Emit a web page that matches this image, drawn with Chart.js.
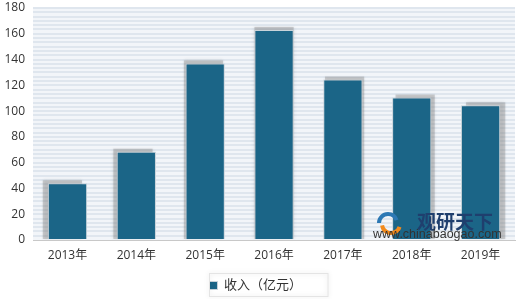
<!DOCTYPE html>
<html>
<head>
<meta charset="utf-8">
<script src="https://cdn.jsdelivr.net/npm/chart.js@4/dist/chart.umd.min.js"></script>
<style>
  html, body { margin: 0; padding: 0; background: #fff; }
  #wrap { width: 520px; height: 299px; position: relative; }
</style>
</head>
<body>
<div id="wrap"><canvas id="revenue-chart"></canvas></div>
<script>
// chart data
const years = ['2013年', '2014年', '2015年', '2016年', '2017年', '2018年', '2019年'];
const revenue = [44, 68.5, 137, 163, 124.5, 110.5, 104.5];
const seriesName = '收入（亿元）';
const yMax = 180;
const yLabelStep = 20;
const stripeStep = 20 / 6;

const barColor = '#1b6587';
const fontFamily = '"Open Sans", "Noto Sans CJK SC", sans-serif';

document.addEventListener('DOMContentLoaded', function() {
  const ctx = document.getElementById('revenue-chart').getContext('2d');

  // plot background
  const plotBg = {
    id: 'plotBg',
    beforeDraw(chart) {
      const a = chart.chartArea;
      const c = chart.ctx;
      c.save();
      c.fillStyle = '#f2f5f9';
      c.fillRect(a.left, a.top, a.right - a.left, a.bottom - a.top);
      c.restore();
    }
  };

  // soft shadow behind each bar, spreading outwards from the middle
  const barShadow = {
    id: 'barShadow',
    beforeDatasetsDraw(chart) {
      const c = chart.ctx;
      const meta = chart.getDatasetMeta(0);
      const mid = (meta.data.length - 1) / 2;
      meta.data.forEach(function(bar, i) {
        const w = bar.width;
        const dx = (i - mid) * 1.7;
        c.save();
        c.beginPath();
        c.rect(chart.chartArea.left, chart.chartArea.top, chart.chartArea.width, chart.chartArea.height);
        c.clip();
        c.shadowColor = 'rgba(80,80,80,0.45)';
        c.shadowBlur = 3;
        c.fillStyle = 'rgba(130,130,130,0.35)';
        c.fillRect(bar.x - w / 2 + dx, bar.y - 3, w, bar.base - bar.y + 3);
        c.restore();
      });
    }
  };

  // frame round the legend and watermark
  const extras = {
    id: 'extras',
    afterDraw(chart) {
      const c = chart.ctx;
      const lg = chart.legend;
      const hb = lg.legendHitBoxes[0];
      c.save();
      c.strokeStyle = '#e4e4e4';
      c.lineWidth = 1;
      c.shadowColor = 'rgba(0,0,0,0.15)';
      c.shadowBlur = 5;
      c.strokeRect(Math.round(hb.left) + 0.5, Math.round(hb.top) - 5.5, hb.width + 26, 23);
      c.restore();

      const a = chart.chartArea;
      c.save();
      // logo swirl
      const lx = a.right - 127, ly = a.bottom - 17;
      c.lineWidth = 4;
      c.strokeStyle = '#2c78b4';
      c.beginPath(); c.arc(lx, ly, 9, Math.PI * 1.0, Math.PI * 1.9); c.stroke();
      c.strokeStyle = '#f28a1c';
      c.beginPath(); c.arc(lx + 3, ly + 1, 9, Math.PI * 0.1, Math.PI * 0.95); c.stroke();
      c.fillStyle = '#1f3f6e';
      c.font = 'bold 19px "Noto Sans CJK SC", sans-serif';
      c.textBaseline = 'alphabetic';
      c.fillText('观研天下', a.right - 98, a.bottom - 11);
      c.fillStyle = '#333';
      c.font = '12.5px "Liberation Sans", sans-serif';
      c.fillText('www.chinabaogao.com', a.right - 142, a.bottom - 2);
      c.restore();
    }
  };

  new Chart(ctx, {
    type: 'bar',
    data: {
      labels: years,
      datasets: [{
        label: seriesName,
        data: revenue,
        backgroundColor: barColor,
        borderColor: '#c9d3da',
        borderWidth: 1,
        barPercentage: 0.57,
        categoryPercentage: 1.0
      }]
    },
    options: {
      responsive: true,
      maintainAspectRatio: false,
      animation: false,
      layout: { autoPadding: false, padding: { left: -3.5, right: 5, top: 8, bottom: -3 } },
      plugins: {
        tooltip: { enabled: false },
        legend: {
          position: 'bottom',
          labels: {
            boxWidth: 8,
            boxHeight: 8,
            padding: 5,
            color: '#333',
            font: { family: fontFamily, size: 13 }
          }
        }
      },
      scales: {
        x: {
          grid: { display: false, drawTicks: false },
          border: { color: '#c8c8c8' },
          afterFit(axis) { axis.height += 3.6; },
          ticks: {
            color: '#333',
            padding: 8,
            font: { family: fontFamily, size: 12 }
          }
        },
        y: {
          min: 0,
          max: yMax,
          border: { display: false },
          afterFit(axis) { axis.paddingTop = 0; },
          afterBuildTicks(axis) {
            const t = [];
            for (let i = 0; i * stripeStep <= yMax + 0.001; i++) {
              t.push({ value: Math.round(i * stripeStep * 1000) / 1000 });
            }
            axis.ticks = t;
          },
          grid: {
            drawTicks: false,
            lineWidth: 2,
            color: function(c) { return c.tick && c.tick.value === 0 ? 'rgba(0,0,0,0)' : '#dfe6ee'; }
          },
          ticks: {
            autoSkip: false,
            padding: 8,
            color: '#333',
            font: { family: fontFamily, size: 12 },
            callback: function(v) {
              const r = Math.round(v);
              return Math.abs(v - r) < 0.01 && r % yLabelStep === 0 ? r : '';
            }
          }
        }
      }
    },
    plugins: [plotBg, barShadow, extras]
  });
});
</script>
</body>
</html>
